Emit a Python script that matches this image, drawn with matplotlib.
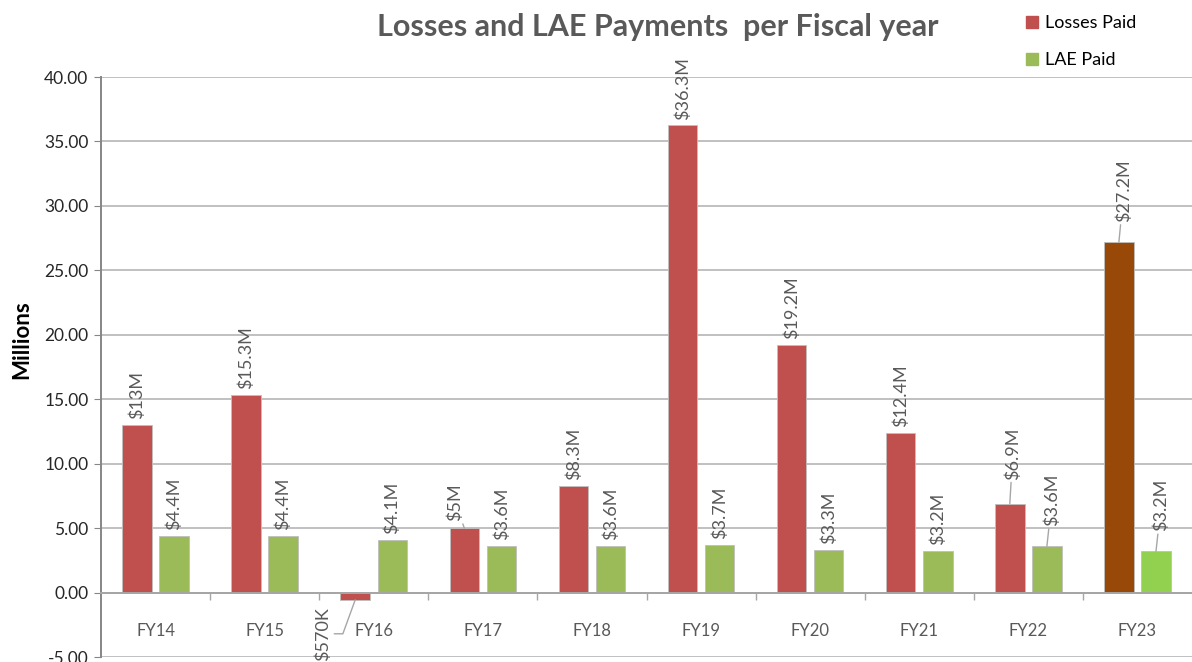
import numpy as np
import matplotlib
matplotlib.use("Agg")
import matplotlib.pyplot as plt
from matplotlib.patches import Patch

plt.rcParams['font.family'] = ['Lato', 'DejaVu Sans']

# dados (milhões)
anos = ["FY14", "FY15", "FY16", "FY17", "FY18", "FY19", "FY20", "FY21", "FY22", "FY23"]
losses = [13.0, 15.3, -0.57, 5.0, 8.3, 36.3, 19.2, 12.4, 6.9, 27.2]
lae = [4.4, 4.4, 4.1, 3.6, 3.6, 3.7, 3.3, 3.2, 3.6, 3.2]

cor_losses = ["#C0504D"] * 9 + ["#984807"]
cor_lae = ["#9BBB59"] * 9 + ["#92D050"]

# deslocamento dos rótulos (pixels) e se tem linha guia
off_losses = [(0, 6), (0, 6), (-32, -7), (-9, 7), (0, 6), (0, 5), (0, 6), (0, 6), (3, 24), (5, 20)]
off_lae = [(0, 6), (0, 6), (0, 6), (0, 6), (0, 6), (0, 6), (0, 6), (0, 6), (5, 20), (5, 20)]
guia_losses = [False, False, True, True, False, False, False, False, True, True]
guia_lae = [False] * 8 + [True, True]


def rotulo(v):
    if abs(v) < 1:
        return f"${abs(v) * 1000:.0f}K"
    s = f"{v:.1f}".rstrip('0').rstrip('.')
    return f"${s}M"


fig = plt.figure(figsize=(11.92, 6.62), dpi=100)
ax = fig.add_axes([101 / 1192, 1 - 657 / 662, 1 - 101 / 1192, (657 - 77) / 662])

x = np.arange(len(anos))
w = 0.27
d = 0.17
ax.bar(x - d, losses, w, color=cor_losses, edgecolor="#BFBFBF", linewidth=0.6, zorder=3)
ax.bar(x + d, lae, w, color=cor_lae, edgecolor="#BFBFBF", linewidth=0.6, zorder=3)

ax.set_xlim(-0.5, len(anos) - 0.5)
ax.set_ylim(-5, 40)
ax.set_yticks(np.arange(-5, 41, 5))
ax.set_yticklabels([f"{v:.2f}" for v in np.arange(-5, 41, 5)], fontsize=12.5, color="#262626")
ax.yaxis.grid(True, color="#C0C0C0", linewidth=1.4, zorder=0)
ax.tick_params(axis='y', length=5, color="#868686", pad=4)

# eixo de categorias na linha do zero
ax.spines['bottom'].set_position(('data', 0))
ax.spines['bottom'].set_color("#A6A6A6")
ax.spines['bottom'].set_linewidth(1.4)
ax.spines['bottom'].set_zorder(4)
ax.spines['left'].set_color("#868686")
ax.spines['left'].set_linewidth(1.4)
ax.spines['top'].set_visible(False)
ax.spines['right'].set_visible(False)

ax.set_xticks(x)
ax.set_xticklabels(anos, fontsize=12, color="#595959")
ax.set_xticks(np.arange(0.5, len(anos) - 1, 1), minor=True)
ax.tick_params(axis='x', which='major', length=0, pad=22)
ax.tick_params(axis='x', which='minor', length=5, color="#A6A6A6", width=1)

# rótulos das barras
for serie, desl, guia, sinal in [(losses, off_losses, guia_losses, -1), (lae, off_lae, guia_lae, 1)]:
    for i, v in enumerate(serie):
        dx, dy = desl[i]
        va = 'bottom' if dy >= 0 else 'top'
        props = None
        if guia[i]:
            props = dict(arrowstyle='-', color="#A6A6A6", lw=1, shrinkA=0, shrinkB=0)
            if v < 0:
                props.update(relpos=(1, 0.5), connectionstyle="angle,angleA=0,angleB=70,rad=0")
        ax.annotate(rotulo(v), xy=(i + sinal * d, v), xytext=(dx, dy),
                    textcoords='offset pixels', rotation=90, ha='center', va=va,
                    fontsize=13, color="#595959", arrowprops=props, zorder=5)

fig.text(658 / 1192, 1 - 27 / 662, "Losses and LAE Payments  per Fiscal year",
         ha='center', va='center', fontsize=22, fontweight='bold', color="#595959")
fig.text(22 / 1192, 1 - 340 / 662, "Millions", rotation=90, ha='center', va='center',
         fontsize=16, fontweight='bold', color="black")

handles = [Patch(color="#C0504D", label="Losses Paid"), Patch(color="#9BBB59", label="LAE Paid")]
fig.legend(handles=handles, loc='upper left', bbox_to_anchor=(1010 / 1192, 1 + 1 / 662),
           frameon=False, fontsize=13, handlelength=0.65, handleheight=0.65,
           handletextpad=0.4, labelspacing=1.15)

fig.savefig("out.png", dpi=100)
